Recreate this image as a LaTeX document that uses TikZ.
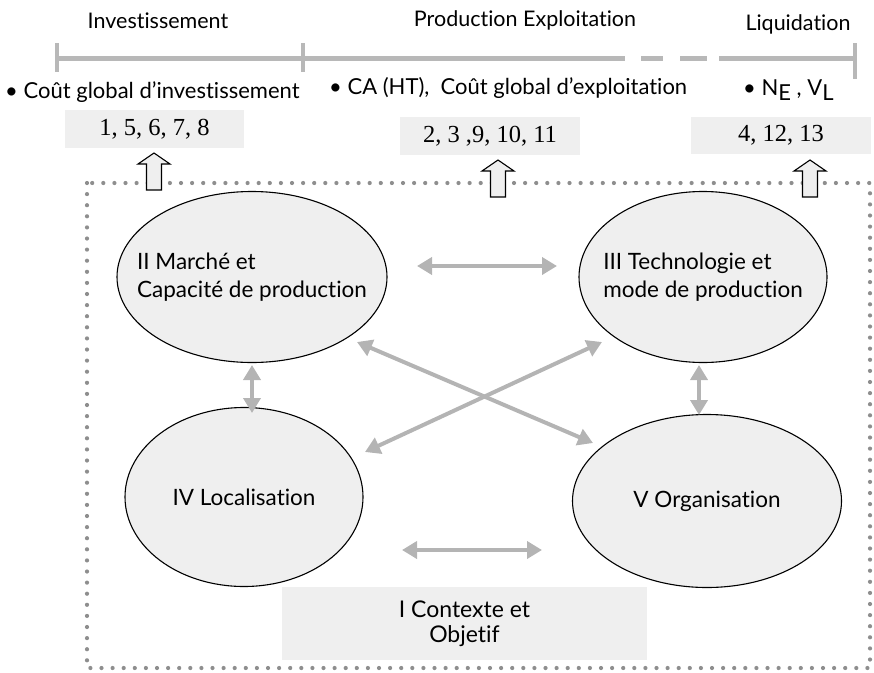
\documentclass[tikz,border=0pt]{standalone}
\usepackage{fontspec}
\setmainfont{Lato}[Ligatures=NoCommon]
\newfontfamily\numfont{Liberation Serif}
\usetikzlibrary{shapes.geometric,arrows.meta}

\definecolor{panelgray}{HTML}{EFEFEF}
\definecolor{linkgray}{HTML}{B4B4B4}
\definecolor{trackgray}{HTML}{B8B8B8}
\definecolor{dotgray}{HTML}{8E8E8E}

\tikzset{
  phase/.style={inner sep=0pt, font=\fontsize{21.5}{24}\selectfont},
  bulletline/.style={inner sep=0pt, anchor=west, font=\fontsize{22}{25}\selectfont},
  numbox/.style={fill=panelgray, inner sep=0pt, font=\numfont\fontsize{24.5}{26}\selectfont},
  topic/.style={ellipse, draw=black, line width=1.1pt, fill=panelgray, inner sep=0pt},
  topiclabel/.style={inner sep=0pt, align=left, font=\fontsize{22.5}{28}\selectfont},
  basebox/.style={fill=panelgray, inner sep=0pt, align=center,
    font=\fontsize{23}{25}\selectfont},
  link/.style={draw=linkgray, line width=4pt,
    {Triangle[length=15pt,width=17pt]}-{Triangle[length=15pt,width=17pt]}},
  track/.style={draw=trackgray, line width=5pt},
  tick/.style={draw=trackgray, line width=4pt},
  frame/.style={draw=dotgray, line width=4.2pt, line cap=round,
    dash pattern=on 0pt off 11.1pt},
  upcue/.pic={
    \draw[fill=panelgray, draw=black, line width=1.1pt]
      (0,0) -- (16,11) -- (7.5,11) -- (7.5,37) -- (-7.5,37) -- (-7.5,11) -- (-16,11) -- cycle;
  }
}

\begin{document}
\begin{tikzpicture}[x=1pt,y=-1pt]
\useasboundingbox (0,0) rectangle (874,672);

% time line with its phases
\draw[track] (57,58) -- (625,58);
\draw[track] (641,58) -- (663,58);
\draw[track] (680,58) -- (707,58);
\draw[track] (719,58) -- (855,58);
\draw[tick] (57,43) -- (57,72);
\draw[tick] (303,43) -- (303,72);
\draw[tick] (855,43) -- (855,79);

\node[phase] (inv) at (158,21) {Investissement};
\node[phase] (prod) at (525,20) {Production Exploitation};
\node[phase] (liq) at (798,24) {Liquidation};

% quantities computed in each phase
\node[bulletline] (qinv) at (5,92) {• Coût global d’investissement};
\node[bulletline] (qprod) at (329,88) {• CA (HT),\ \ Coût global d’exploitation};
\node[bulletline] (qliq) at (743,90) {• N\raisebox{-0.45ex}{E} , V\raisebox{-0.45ex}{L}};

\node[numbox, minimum width=179pt, minimum height=38pt] (n1) at (154.5,129) {1, 5, 6, 7, 8};
\node[numbox, minimum width=180pt, minimum height=38pt] (n2) at (490,136) {2, 3 ,9, 10, 11};
\node[numbox, minimum width=180pt, minimum height=37pt] (n3) at (781,135.5) {4, 12, 13};

% dotted frame around the study modules
\draw[frame] (87,183) rectangle (870,668);

\pic at (154,153) {upcue};
\pic at (498,160) {upcue};
\pic at (810,160) {upcue};

% modules: fixed-size ellipses, labels set on top
\node[topic, minimum width=270pt, minimum height=171pt] (II) at (252,277) {};
\node[topiclabel] (IIt) at (II) {II Marché et\\Capacité de production};
\node[topic, minimum width=248pt, minimum height=171pt] (III) at (703,277) {};
\node[topiclabel] (IIIt) at (III) {III Technologie et\\mode de production};
\node[topic, minimum width=238pt, minimum height=179pt] (IV) at (244,497) {};
\node[topiclabel] (IVt) at (IV) {IV Localisation};
\node[topic, minimum width=269pt, minimum height=173pt] (V) at (707,501) {};
\node[topiclabel] (Vt) at (V) {V Organisation};
\node[basebox, minimum width=365pt, minimum height=73pt] (I) at (464.5,623.5)
  {I Contexte et\\Objetif};

% links between modules
\coordinate (a1) at (417,266);  \coordinate (a2) at (557,266);
\coordinate (b1) at (357,342);  \coordinate (b2) at (593,443);
\coordinate (c1) at (365,452);  \coordinate (c2) at (602,342);
\coordinate (d1) at (252,365);  \coordinate (d2) at (252,413);
\coordinate (e1) at (699,365);  \coordinate (e2) at (699,415);
\coordinate (f1) at (402,550);  \coordinate (f2) at (542,550);

\draw[link] (a1) -- (a2);
\draw[link] (b1) -- (b2);
\draw[link] (c1) -- (c2);
\draw[link] (d1) -- (d2);
\draw[link] (e1) -- (e2);
\draw[link] (f1) -- (f2);
\end{tikzpicture}
\end{document}
